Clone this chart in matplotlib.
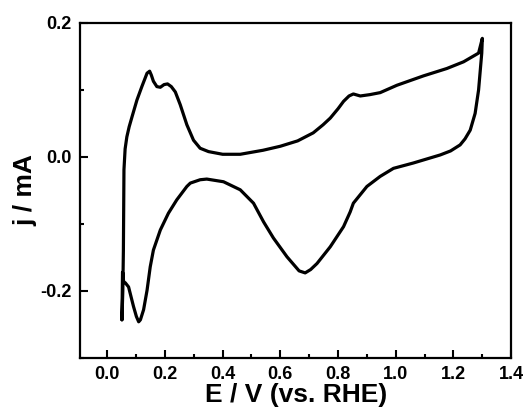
import matplotlib
matplotlib.use('Agg')
from matplotlib import pyplot as plt
from matplotlib.ticker import MultipleLocator

# forward (anodic) sweep, E in V, j in mA
e_fwd = [0.051, 0.054, 0.056, 0.057, 0.058, 0.062, 0.068, 0.076, 0.086, 0.103, 0.120, 0.138,
         0.147, 0.153, 0.160, 0.172, 0.184, 0.197, 0.209, 0.222, 0.236, 0.253, 0.276, 0.299,
         0.322, 0.351, 0.40, 0.461, 0.54, 0.60, 0.66, 0.714, 0.748, 0.773, 0.80, 0.819,
         0.838, 0.853, 0.877, 0.91, 0.946, 1.004, 1.05, 1.096, 1.177, 1.235, 1.287, 1.300]
j_fwd = [-0.243, -0.20, -0.14, -0.08, -0.019, 0.012, 0.030, 0.045, 0.060, 0.085, 0.105, 0.125,
         0.128, 0.122, 0.113, 0.105, 0.104, 0.108, 0.109, 0.105, 0.097, 0.078, 0.048, 0.025,
         0.013, 0.008, 0.004, 0.004, 0.010, 0.016, 0.024, 0.036, 0.048, 0.058, 0.072, 0.083,
         0.091, 0.094, 0.091, 0.093, 0.096, 0.107, 0.114, 0.121, 0.132, 0.142, 0.155, 0.177]

# backward (cathodic) sweep
e_bwd = [1.298, 1.293, 1.287, 1.275, 1.258, 1.240, 1.223, 1.190, 1.154, 1.061, 0.992, 0.946,
         0.90, 0.853, 0.842, 0.819, 0.773, 0.727, 0.705, 0.686, 0.665, 0.623, 0.576, 0.542,
         0.507, 0.461, 0.403, 0.345, 0.322, 0.288, 0.276, 0.241, 0.212, 0.184, 0.160, 0.149,
         0.138, 0.126, 0.115, 0.109, 0.101, 0.091, 0.074, 0.063, 0.057, 0.053, 0.051]
j_bwd = [0.155, 0.13, 0.100, 0.065, 0.040, 0.027, 0.018, 0.009, 0.003, -0.009, -0.017, -0.029,
         -0.044, -0.069, -0.082, -0.104, -0.134, -0.159, -0.168, -0.173, -0.170, -0.149, -0.121, -0.097,
         -0.069, -0.049, -0.037, -0.033, -0.034, -0.039, -0.044, -0.064, -0.084, -0.109, -0.139, -0.164,
         -0.199, -0.228, -0.243, -0.246, -0.238, -0.223, -0.194, -0.188, -0.186, -0.172, -0.243]

plt.rcParams['font.family'] = ['Liberation Sans', 'DejaVu Sans']
plt.rcParams['font.weight'] = 'bold'

fig = plt.figure(figsize=(5.27, 4.17), dpi=100)
ax = fig.add_axes([0.152, 0.1415, 0.818, 0.8035])

ax.plot(e_fwd + e_bwd, j_fwd + j_bwd, color='black', lw=2.3,
        solid_joinstyle='round', solid_capstyle='round')

ax.set_xlim(-0.094, 1.4)
ax.set_ylim(-0.3, 0.2)
ax.set_xticks([0.0, 0.2, 0.4, 0.6, 0.8, 1.0, 1.2, 1.4])
ax.set_xticklabels(['0.0', '0.2', '0.4', '0.6', '0.8', '1.0', '1.2', '1.4'])
ax.set_yticks([-0.2, 0.0, 0.2])
ax.set_yticklabels(['-0.2', '0.0', '0.2'])
ax.xaxis.set_minor_locator(MultipleLocator(0.1))
ax.yaxis.set_minor_locator(MultipleLocator(0.1))
ax.tick_params(which='both', direction='in', width=1.5, labelsize=13, pad=6)
ax.tick_params(which='major', length=6)
ax.tick_params(which='minor', length=3)
for s in ax.spines.values():
    s.set_linewidth(1.6)

ax.set_xlabel('E / V (vs. RHE)', fontsize=19, fontweight='bold', labelpad=0)
ax.set_ylabel('j / mA', fontsize=19, fontweight='bold', labelpad=2)

fig.savefig('out.png', dpi=100)
